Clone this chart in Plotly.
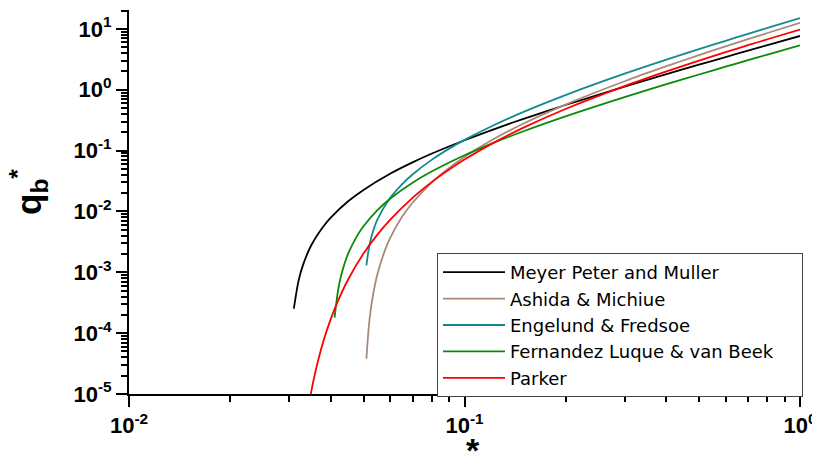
import plotly.graph_objects as go

# Shields stress (x) and dimensionless bedload (y)
mpm_x = [0.031, 0.032, 0.033, 0.035, 0.038, 0.04, 0.045, 0.05, 0.06, 0.07, 0.08, 0.1, 0.13, 0.15, 0.2, 0.3, 0.4, 0.5, 0.6, 0.7, 0.8, 1.0]
mpm_y = [2.53e-4, 7.16e-4, 1.31e-3, 2.83e-3, 5.72e-3, 8.0e-3, 0.0147, 0.0226, 0.0416, 0.064, 0.0894, 0.148, 0.253, 0.333, 0.561, 1.12, 1.80, 2.58, 3.44, 4.39, 5.41, 7.64]

am_x = [0.051, 0.052, 0.053, 0.055, 0.058, 0.06, 0.065, 0.07, 0.08, 0.09, 0.1, 0.12, 0.15, 0.2, 0.3, 0.4, 0.5, 0.6, 0.7, 0.8, 1.0]
am_y = [3.8e-5, 1.51e-4, 3.37e-4, 9.27e-4, 2.34e-3, 3.63e-3, 7.99e-3, 0.0139, 0.0302, 0.0519, 0.0787, 0.146, 0.278, 0.570, 1.378, 2.433, 3.699, 5.152, 6.774, 8.553, 12.54]

ef_x = [0.051, 0.052, 0.053, 0.055, 0.06, 0.065, 0.07, 0.08, 0.09, 0.1, 0.12, 0.15, 0.2, 0.3, 0.4, 0.5, 0.6, 0.7, 0.8, 1.0]
ef_y = [1.30e-3, 2.68e-3, 4.14e-3, 7.31e-3, 0.01657, 0.02767, 0.0405, 0.0710, 0.1076, 0.1497, 0.2491, 0.4325, 0.8171, 1.833, 3.122, 4.643, 6.371, 8.285, 10.37, 15.02]

flvb_x = [0.041, 0.042, 0.043, 0.045, 0.048, 0.05, 0.055, 0.06, 0.07, 0.08, 0.1, 0.12, 0.15, 0.2, 0.3, 0.4, 0.5, 0.6, 0.7, 0.8, 1.0]
flvb_y = [1.80e-4, 5.10e-4, 9.37e-4, 2.02e-3, 4.08e-3, 5.7e-3, 0.01047, 0.01612, 0.02962, 0.0456, 0.0838, 0.129, 0.208, 0.365, 0.756, 1.231, 1.778, 2.389, 3.056, 3.777, 5.361]

pk_x = [0.034, 0.035, 0.036, 0.038, 0.04, 0.042, 0.045, 0.05, 0.055, 0.06, 0.07, 0.08, 0.09, 0.1, 0.12, 0.15, 0.2, 0.3, 0.4, 0.5, 0.6, 0.7, 0.8, 1.0]
pk_y = [4.6e-6, 1.155e-5, 2.41e-5, 7.48e-5, 1.75e-4, 3.43e-4, 7.62e-4, 2.03e-3, 4.16e-3, 7.27e-3, 0.01672, 0.03057, 0.04877, 0.07115, 0.1276, 0.2384, 0.4821, 1.1455, 1.995, 2.997, 4.132, 5.386, 6.748, 9.765]

series_names = ["Meyer Peter and Muller", "Ashida & Michiue", "Engelund & Fredsoe",
                "Fernandez Luque & van Beek\u00a0\u00a0\u00a0\u00a0", "Parker"]
series_colors = ["#000000", "#A88A7A", "#138A8E", "#0A8A0A", "#FF0000"]

x_tickvals = [0.01, 0.1, 1]
x_ticktext = ["10<sup>-2</sup>", "10<sup>-1</sup>", "10<sup>0</sup>"]
y_tickvals = [1e-5, 1e-4, 1e-3, 1e-2, 1e-1, 1, 10]
y_ticktext = ["10<sup>-5</sup>", "10<sup>-4</sup>", "10<sup>-3</sup>", "10<sup>-2</sup>",
              "10<sup>-1</sup>", "10<sup>0</sup>", "10<sup>1</sup>"]

x_minor = [m * 10.0 ** e for e in (-2, -1) for m in range(2, 10)]
y_minor = [m * 10.0 ** e for e in range(-5, 2) for m in range(2, 10)]

data = [(mpm_x, mpm_y), (am_x, am_y), (ef_x, ef_y), (flvb_x, flvb_y), (pk_x, pk_y)]

fig = go.Figure()
for (xs, ys), name, col in zip(data, series_names, series_colors):
    fig.add_trace(go.Scatter(x=xs, y=ys, mode="lines", name=name,
                             line=dict(color=col, width=1.8, shape="spline", smoothing=0.8)))

tickfont = dict(family="Liberation Sans, Arial", size=22, color="black", weight="bold")

# page has an 8px body margin: figure is 812x450 placed at (8, 8)
fig.update_layout(
    width=812, height=450,
    margin=dict(l=121, r=20, t=2, b=64),
    paper_bgcolor="white", plot_bgcolor="white",
    showlegend=True,
    legend=dict(x=(437 - 129) / 671, y=(394 - 253) / 384, xanchor="left", yanchor="top",
                bgcolor="white", bordercolor="#444444", borderwidth=1,
                font=dict(family="DejaVu Sans", size=18, color="black"),
                itemwidth=62, tracegroupgap=0),
    xaxis=dict(type="log", range=[-2, 0], showline=True, linewidth=2, linecolor="black",
               showgrid=False, zeroline=False, ticks="outside", ticklen=11, tickwidth=1.5,
               tickcolor="black", tickmode="array", tickvals=x_tickvals, ticktext=x_ticktext,
               tickfont=tickfont, automargin=False,
               minor=dict(tickmode="array", tickvals=x_minor, ticks="outside", ticklen=6,
                          tickwidth=1.5, tickcolor="black", showgrid=False)),
    yaxis=dict(type="log", range=[-5, 1.31], showline=True, linewidth=2, linecolor="black",
               showgrid=False, zeroline=False, ticks="outside", ticklen=11, tickwidth=1.5,
               tickcolor="black", tickmode="array", tickvals=y_tickvals, ticktext=y_ticktext,
               tickfont=tickfont, automargin=False,
               minor=dict(tickmode="array", tickvals=y_minor, ticks="outside", ticklen=6,
                          tickwidth=1.5, tickcolor="black", showgrid=False)),
    annotations=[
        dict(text="*", xref="paper", yref="paper", x=(473 - 129) / 671, y=(394 - 450) / 384,
             xanchor="center", yanchor="middle", showarrow=False,
             font=dict(family="Liberation Sans, Arial", size=34, color="black", weight="bold")),
        dict(text="q<sub>b</sub><sup>*</sup>", xref="paper", yref="paper", textangle=-90,
             x=(28 - 129) / 671, y=(394 - 192) / 384, xanchor="center", yanchor="middle",
             showarrow=False,
             font=dict(family="Liberation Sans, Arial", size=35, color="black", weight="bold")),
    ],
)

fig.write_html("out.html")
